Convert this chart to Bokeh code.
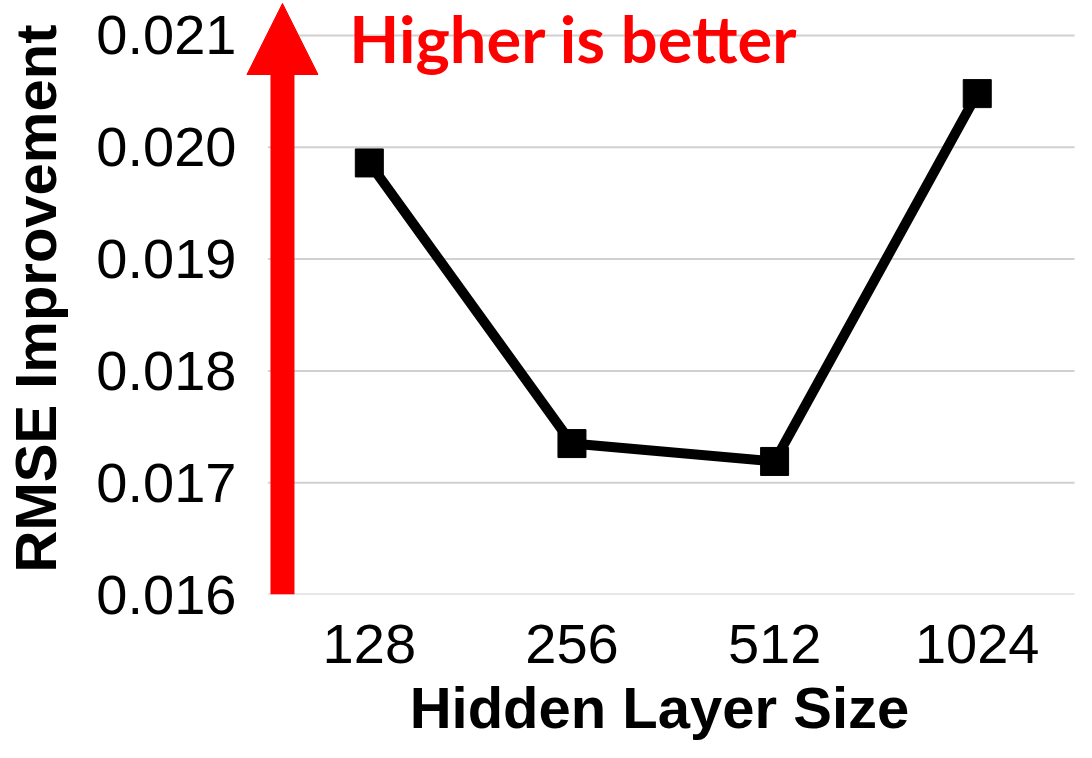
from bokeh.plotting import figure
from bokeh.models import Range1d, FixedTicker, NumeralTickFormatter, Arrow, NormalHead, Label
from bokeh.embed import file_html
from bokeh.resources import INLINE

# data
sizes = ["128", "256", "512", "1024"]
rmse_improvement = [0.01986, 0.01735, 0.01719, 0.02048]
y_ticks = [0.016, 0.017, 0.018, 0.019, 0.020, 0.021]

x_idx = list(range(len(sizes)))

p = figure(x_range=Range1d(-0.616, 3.48), y_range=Range1d(0.016, 0.021295),
           width=1076, height=742, output_backend="svg", toolbar_location=None,
           min_border_left=243, min_border_right=2, min_border_top=2, min_border_bottom=148)
p.outline_line_color = None
p.background_fill_color = "white"
p.xgrid.grid_line_color = None
p.ygrid.grid_line_color = None

# horizontal gridlines spanning the category bands
n = len(sizes)
p.segment(x0=[-0.5] * len(y_ticks), x1=[n - 0.5] * len(y_ticks), y0=y_ticks, y1=y_ticks,
          line_color="#d0d0d0", line_width=2)

p.line(x_idx, rmse_improvement, line_color="black", line_width=10)
p.scatter(x_idx, rmse_improvement, marker="square", size=28, fill_color="black", line_color="black")

p.xaxis.ticker = FixedTicker(ticks=x_idx)
p.xaxis.major_label_overrides = {i: s for i, s in enumerate(sizes)}
p.yaxis.ticker = FixedTicker(ticks=y_ticks)
p.yaxis.formatter = NumeralTickFormatter(format="0.000")

for ax in (p.xaxis[0], p.yaxis[0]):
    ax.axis_line_color = None
    ax.major_tick_line_color = None
    ax.minor_tick_line_color = None
    ax.major_label_text_font = "Liberation Sans"
    ax.major_label_text_font_size = "56px"
    ax.major_label_text_color = "black"
    ax.axis_label_text_font = "Liberation Sans"
    ax.axis_label_text_font_style = "bold"
    ax.axis_label_text_font_size = "58px"
    ax.axis_label_text_color = "black"

p.xaxis.axis_label = "Hidden Layer Size"
p.yaxis.axis_label = "RMSE Improvement"
p.yaxis.major_label_standoff = 2
p.yaxis.axis_label_standoff = 25
p.xaxis.major_label_standoff = 24
p.xaxis.axis_label_standoff = 9

arrow_x = -0.4286
shaft = Arrow(end=None, x_start=arrow_x, y_start=0.016, x_end=arrow_x, y_end=0.020655,
              line_color="red", line_width=24, line_cap="butt")
p.add_layout(shaft)
head = Arrow(end=NormalHead(size=71, fill_color="red", line_color="red", line_width=1),
             x_start=arrow_x, y_start=0.0205, x_end=arrow_x, y_end=0.021286,
             line_alpha=0, line_width=1)
p.add_layout(head)

lab = Label(x=-0.0985, y=0.02098, text="Higher is better", text_color="red",
            text_font="Lato", text_font_style="bold", text_font_size="65px",
            text_baseline="alphabetic", text_align="left")
p.add_layout(lab)

open("out.html", "w").write(file_html(p, INLINE))
